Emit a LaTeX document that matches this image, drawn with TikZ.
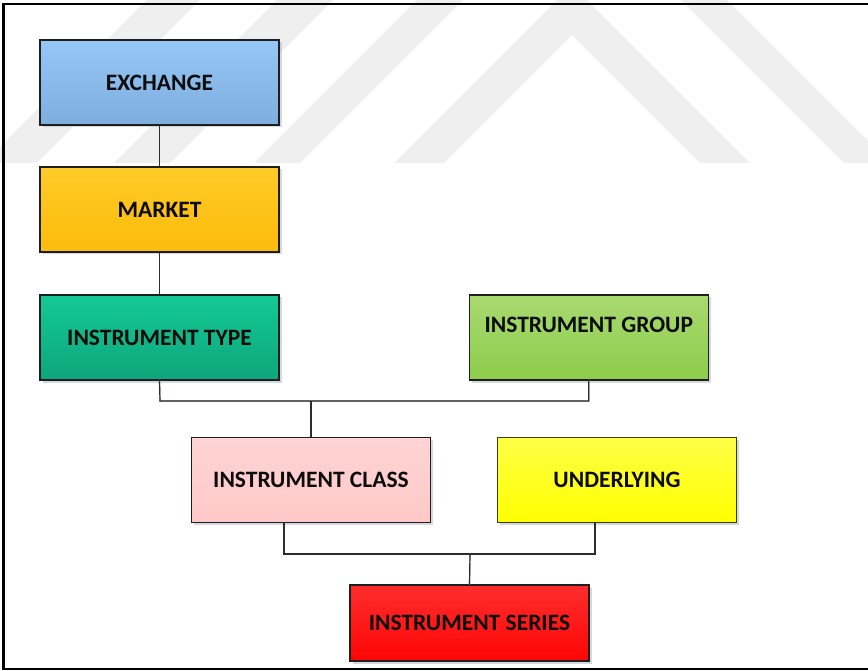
\documentclass[tikz,border=0pt]{standalone}
\usepackage{fontspec}
\setmainfont{Carlito}
\usetikzlibrary{shadows}

\definecolor{wmgray}{RGB}{239,239,239}
\definecolor{boxline}{RGB}{30,30,30}
\definecolor{linkline}{RGB}{45,45,45}
\definecolor{linkshade}{RGB}{188,202,212}
\definecolor{shade}{RGB}{175,185,195}
\definecolor{txt}{RGB}{12,12,12}

\begin{document}
\begin{tikzpicture}[x=1pt,y=-1pt,
  box/.style={draw=boxline, line width=1.1pt, rectangle,
    minimum width=239pt, minimum height=85pt, inner sep=0pt,
    drop shadow={shadow xshift=2.5pt, shadow yshift=-2.5pt, fill=shade, opacity=.55},
    font=\fontsize{23.5}{27}\selectfont\bfseries, text=txt},
  lbl/.style={inner sep=0pt, font=\fontsize{23.5}{27}\selectfont\bfseries, text=txt},
  link/.style={draw=linkline, line width=1.2pt},
  linkshadow/.style={draw=linkshade, line width=1.6pt},
]
\useasboundingbox (0,0) rectangle (868,671);

% faint background emblem
\begin{scope}
  \clip (0,0) rectangle (868,163);
  \fill[wmgray] (147,0) -- (200,0) -- (37,163) -- (-16,163) -- cycle;
  \fill[wmgray] (277,0) -- (333,0) -- (170,163) -- (114,163) -- cycle;
  \fill[wmgray] (417,0) -- (463,0) -- (300,163) -- (254,163) -- cycle;
  \fill[wmgray] (557,0) -- (587,0) -- (750,163) -- (700,163) -- (572,35)
                -- (444,163) -- (394,163) -- cycle;
  \fill[wmgray] (681,0) -- (727,0) -- (890,163) -- (844,163) -- cycle;
\end{scope}

% outer frame (open on the right)
\draw[black, line width=2.2pt] (868,3.7) -- (3.5,3.7) -- (3.5,668.7) -- (868,668.7);

% boxes
\node[box, top color={rgb,255:red,149;green,198;blue,245}, bottom color={rgb,255:red,125;green,174;blue,221}]
  (ex) at (159.5,82.5) {EXCHANGE};
\node[box, top color={rgb,255:red,255;green,202;blue,40}, bottom color={rgb,255:red,252;green,188;blue,10}]
  (mk) at (159.5,209.5) {MARKET};
\node[box, top color={rgb,255:red,20;green,201;blue,150}, bottom color={rgb,255:red,14;green,166;blue,123}]
  (ty) at (159.5,337.5) {INSTRUMENT TYPE};
\node[box, top color={rgb,255:red,168;green,217;blue,112}, bottom color={rgb,255:red,141;green,205;blue,76}]
  (gr) at (588.8,337.5) {};
\node[lbl] (grt) at ([yshift=12.5pt]gr.center) {INSTRUMENT GROUP};
\node[box, top color={rgb,255:red,255;green,212;blue,212}, bottom color={rgb,255:red,255;green,200;blue,200}]
  (cl) at (311,480) {INSTRUMENT CLASS};
\node[box, draw={rgb,255:red,60;green,60;blue,20}, top color={rgb,255:red,255;green,255;blue,70}, bottom color={rgb,255:red,255;green,255;blue,0}]
  (ud) at (617,480) {UNDERLYING};
\node[box, minimum height=76pt, top color={rgb,255:red,255;green,45;blue,45}, bottom color={rgb,255:red,255;green,5;blue,5}]
  (se) at (469.5,623) {INSTRUMENT SERIES};

% junction points
\coordinate (j1) at (160,401);
\coordinate (j2) at (470,554);
\coordinate (clb) at (284,522.7);
\coordinate (udb) at (595,522);

% connector shading
\begin{scope}[shift={(2,2)}]
  \draw[linkshadow] (ex.south) -- (mk.north);
  \draw[linkshadow] (mk.south) -- (ty.north);
  \draw[linkshadow] (ty.south) -- (j1) -| (gr.south);
  \draw[linkshadow] (cl.north) -- (cl.north |- j1);
  \draw[linkshadow] (clb) |- (j2) -| (udb);
  \draw[linkshadow] (j2) -- (se.north);
\end{scope}

% connectors
\draw[link] (ex.south) -- (mk.north);
\draw[link] (mk.south) -- (ty.north);
\draw[link] (ty.south) -- (j1) -| (gr.south);
\draw[link] (cl.north) -- (cl.north |- j1);
\draw[link] (clb) |- (j2) -| (udb);
\draw[link] (j2) -- (se.north);
\end{tikzpicture}
\end{document}
